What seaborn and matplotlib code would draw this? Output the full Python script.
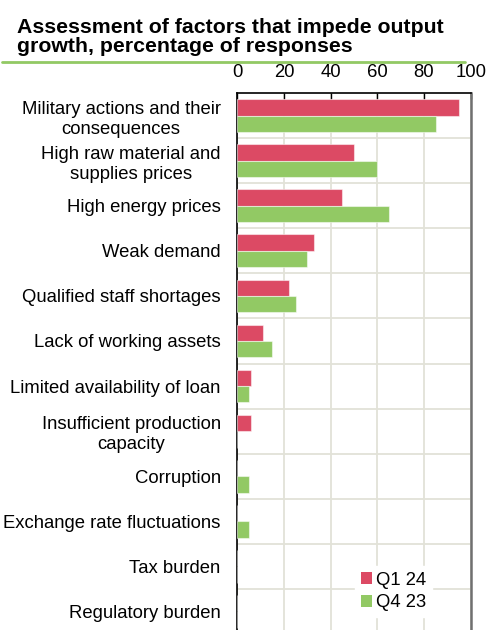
import pandas as pd
import matplotlib
matplotlib.use("Agg")
import matplotlib.pyplot as plt
import seaborn as sns
from matplotlib.lines import Line2D
from matplotlib.ticker import FixedLocator

factors = [
    "Military actions and their\nconsequences",
    "High raw material and\nsupplies prices",
    "High energy prices",
    "Weak demand",
    "Qualified staff shortages",
    "Lack of working assets",
    "Limited availability of loan",
    "Insufficient production\ncapacity",
    "Corruption",
    "Exchange rate fluctuations",
    "Tax burden",
    "Regulatory burden",
]
q1_24 = [95, 50, 45, 33, 22, 11, 6, 6, 0, 0, 0, 0]
q4_23 = [85, 60, 65, 30, 25, 15, 5, 0, 5, 5, 0, 0]
periods = ["Q1 24", "Q4 23"]
x_ticks = [0, 20, 40, 60, 80, 100]

df = pd.concat([
    pd.DataFrame({"factor": factors, "value": q1_24, "period": periods[0]}),
    pd.DataFrame({"factor": factors, "value": q4_23, "period": periods[1]}),
])

sns.set_style("white")
plt.rcParams["font.family"] = ["Liberation Sans", "DejaVu Sans"]
plt.rcParams["text.color"] = "black"
plt.rcParams["xtick.color"] = "black"
plt.rcParams["ytick.color"] = "black"

red = "#DC4A64"
green = "#92C964"
grid_c = "#E2E2D8"
fs = 13.3

fig = plt.figure(figsize=(4.94, 6.3), dpi=100)
ax = fig.add_axes([0.4804, -0.006, 0.4724, 0.8580])

sns.barplot(data=df, y="factor", x="value", hue="period", hue_order=periods,
            order=factors, palette=[red, green], saturation=1, width=0.73,
            orient="h", edgecolor=(1, 1, 1, 0.5), linewidth=0.8, ax=ax, zorder=3)

ax.set_xlim(0, 100)
ax.set_ylim(len(factors) - 0.5, -0.5)
ax.set_xticks(x_ticks)
ax.xaxis.tick_top()
ax.tick_params(axis="x", direction="in", length=4, width=1, color="black",
               labelsize=fs, pad=8.5)
ax.yaxis.set_minor_locator(FixedLocator([i + 0.5 for i in range(len(factors) - 1)]))
ax.tick_params(axis="y", which="major", length=0, labelsize=fs, pad=12)
ax.tick_params(axis="y", which="minor", direction="in", length=4, width=1.2,
               color="#333333")
for lab in ax.get_yticklabels():
    lab.set_multialignment("center")
    lab.set_linespacing(1.25)

ax.grid(axis="x", which="major", color=grid_c, linewidth=1.3, zorder=0)
ax.grid(axis="y", which="minor", color=grid_c, linewidth=1.3, zorder=0)
ax.set_axisbelow(True)
ax.set_xlabel("")
ax.set_ylabel("")

for side in ["top", "left"]:
    ax.spines[side].set_color("black")
    ax.spines[side].set_linewidth(1.2)
ax.spines["right"].set_color("#707070")
ax.spines["right"].set_linewidth(1.8)
ax.spines["bottom"].set_visible(False)

leg = ax.legend(loc="center left", bbox_to_anchor=(0.465, 0.078), frameon=True,
                fontsize=fs, handlelength=0.6, handleheight=0.6,
                handletextpad=0.25, labelspacing=0.3, borderpad=0.3)
leg.get_frame().set_edgecolor("white")
leg.get_frame().set_facecolor("white")
leg.get_frame().set_alpha(1)
for h in leg.legend_handles:
    h.set_edgecolor("none")

fig.text(0.034, 0.972, "Assessment of factors that impede output\ngrowth, percentage of responses",
         fontsize=15.3, fontweight="bold", va="top", ha="left", linespacing=1.0)
fig.add_artist(Line2D([0.004, 0.941], [0.902, 0.902], color=green, linewidth=2,
                      transform=fig.transFigure))

fig.savefig("out.png", dpi=100)
